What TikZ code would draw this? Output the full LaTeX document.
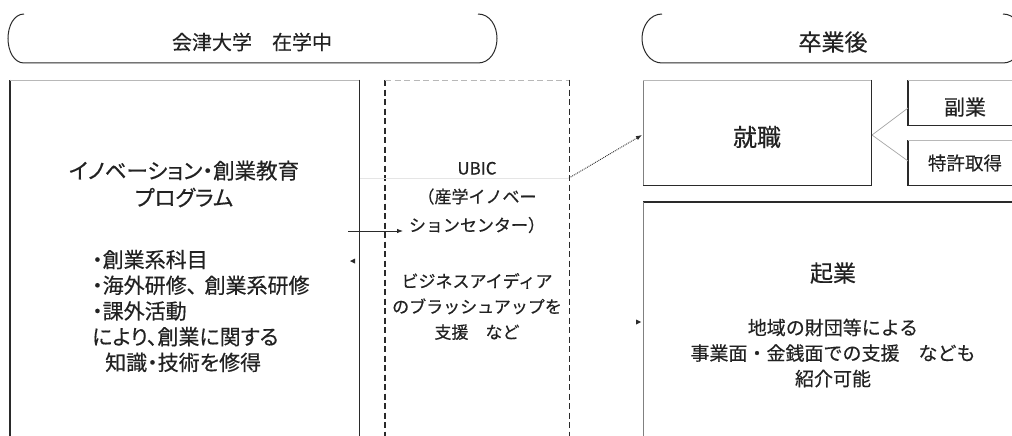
\documentclass[tikz,border=0pt]{standalone}
\usepackage{fontspec}
\setmainfont[FakeBold=0.4]{Noto Sans CJK JP}
\newfontfamily\jpp[FakeBold=0.4,RawFeature=+palt]{Noto Sans CJK JP}
\usetikzlibrary{arrows.meta}
\definecolor{ink}{HTML}{222222}
\definecolor{edge}{HTML}{2A2A2A}
\definecolor{lightedge}{HTML}{B8B8B8}
\begin{document}
\begin{tikzpicture}[x=1pt,y=-1pt,
  txt/.style={inner sep=0pt, align=center, text=ink},
  box/.style={draw=none, inner sep=0pt, anchor=north west},
  solidedge/.style={draw=edge, line width=1.1pt},
  softedge/.style={draw=lightedge, line width=0.9pt},
  dashedge/.style={draw=edge, line width=1.1pt, dash pattern=on 6pt off 3.5pt},
  softdash/.style={draw=lightedge, line width=0.9pt, dash pattern=on 6pt off 3.5pt},
  banner/.style={draw=edge, line width=1pt},
  arrowline/.style={draw=edge, line width=0.8pt, -{Latex[length=6pt,width=4.5pt]}},
  dotarrow/.style={draw=edge, line width=0.9pt, densely dotted, -{Latex[length=6pt,width=4.5pt]}},
  branch/.style={draw=gray!70, line width=0.7pt},
  tip/.style={fill=edge}
]
\useasboundingbox (0,0) rectangle (1012,436);
\clip (0,0) rectangle (1012,436);
\fill[white] (0,0) rectangle (1012,436);

% banners
\draw[banner] (24,14) .. controls (14,14) and (8,26) .. (8,38.5)
  .. controls (8,51) and (14,63) .. (24,63) -- (478,63)
  .. controls (490,63) and (497,51) .. (497,38.5)
  .. controls (497,26) and (490,14) .. (478,14);
\node[txt, font=\fontsize{20}{24}\selectfont] (ban1) at (252,42) {会津大学　在学中};

\draw[banner] (662,14) .. controls (650,14) and (642,26) .. (642,38.5)
  .. controls (642,51) and (650,63) .. (662,63) -- (1003,63)
  .. controls (1015,63) and (1022,51) .. (1022,38.5)
  .. controls (1022,26) and (1015,14) .. (1003,14);
\node[txt, font=\fontsize{23}{26}\selectfont] (ban2) at (833,42) {卒業後};

% boxes
\node[box, minimum width=349pt, minimum height=400pt] (prog) at (10,80) {};
\draw[solidedge] (prog.north west) -- (prog.south west);
\draw[solidedge] (prog.north east) -- (prog.south east);
\draw[softedge] (prog.north west) -- (prog.north east);

\node[box, minimum width=184pt, minimum height=400pt] (ubic) at (385,80) {};
\draw[dashedge] (ubic.north west) -- (ubic.south west);
\draw[dashedge] (ubic.north east) -- (ubic.south east);
\draw[softdash] (ubic.north west) -- (ubic.north east);

\node[box, minimum width=228pt, minimum height=105pt] (shu) at (643,80) {};
\draw[solidedge] (shu.north east) -- (shu.south east) -- (shu.south west);
\draw[draw=gray, line width=0.9pt] (shu.south west) -- (shu.north west);
\draw[softedge] (shu.north west) -- (shu.north east);

\node[box, minimum width=150pt, minimum height=45pt] (fuku) at (908,80) {};
\draw[solidedge] (fuku.north west) -- (fuku.south west) -- (fuku.south east);
\draw[softedge] (fuku.north west) -- (fuku.north east);

\node[box, minimum width=150pt, minimum height=45pt] (toku) at (908,140) {};
\draw[solidedge] (toku.north west) -- (toku.south west) -- (toku.south east);
\draw[softedge] (toku.north west) -- (toku.north east);

\node[box, minimum width=420pt, minimum height=300pt] (kigyo) at (643,202) {};
\draw[solidedge] (kigyo.north west) -- (kigyo.north east);
\draw[draw=gray, line width=0.9pt] (kigyo.north west) -- (kigyo.south west);

% faint line
\draw[draw=gray!20, line width=0.6pt] (360,178) -- (ubic.east |- {(0,178)});

% texts
\node[txt, font=\jpp\fontsize{21.5}{27}\selectfont] (progtitle) at (184,184) {イノベーション・創業教育\\プログラム};
\node[txt, align=left, anchor=west, font=\jpp\fontsize{21}{25.7}\selectfont] (proglist) at (92,311)
  {・創業系科目\\・海外研修、\hspace{0.35em}創業系研修\\・課外活動\\により、創業に関する\\\hspace{13pt}知識・技術を修得};

\node[txt, font=\fontsize{17}{28.5}\selectfont] (ubictitle) at (477,197.5) {UBIC\\（産学イノベー\\ションセンター）};
\node[txt, font=\fontsize{17}{25.5}\selectfont] (ubicbody) at (477,306.5) {ビジネスアイディア\\のブラッシュアップを\\支援　など};

\node[txt, font=\fontsize{24}{28}\selectfont] (shutxt) at (757,137) {就職};
\node[txt, font=\fontsize{21}{25}\selectfont] (fukutxt) at (965,107) {副業};
\node[txt, font=\fontsize{18.5}{22}\selectfont] (tokutxt) at (965,163) {特許取得};

\node[txt, font=\fontsize{23}{27}\selectfont] (kigyotitle) at (833,273) {起業};
\node[txt, font=\fontsize{19}{25.5}\selectfont] (kigyobody) at (833,353) {地域の財団等による\\事業面・金銭面での支援　なども\\紹介可能};

% connectors
\coordinate (a1s) at (348,231);
\coordinate (a1e) at (403,231);
\draw[arrowline] (a1s) -- (a1e);
\coordinate (d1s) at (569,178);
\coordinate (d1e) at (642,135);
\draw[dotarrow] (d1s) -- (d1e);
\coordinate (b0) at (872,135);
\draw[branch] (b0) -- (fuku.west |- {(0,108)});
\draw[branch] (b0) -- (toku.west |- {(0,161)});

% stray arrow tips
\coordinate (t1) at (350,261);
\fill[tip] (t1) -- ++(5,-2.5) -- ++(0,5) -- cycle;
\coordinate (t2) at (641,322);
\fill[tip] (t2) -- ++(-5,-2.5) -- ++(0,5) -- cycle;
\end{tikzpicture}
\end{document}
